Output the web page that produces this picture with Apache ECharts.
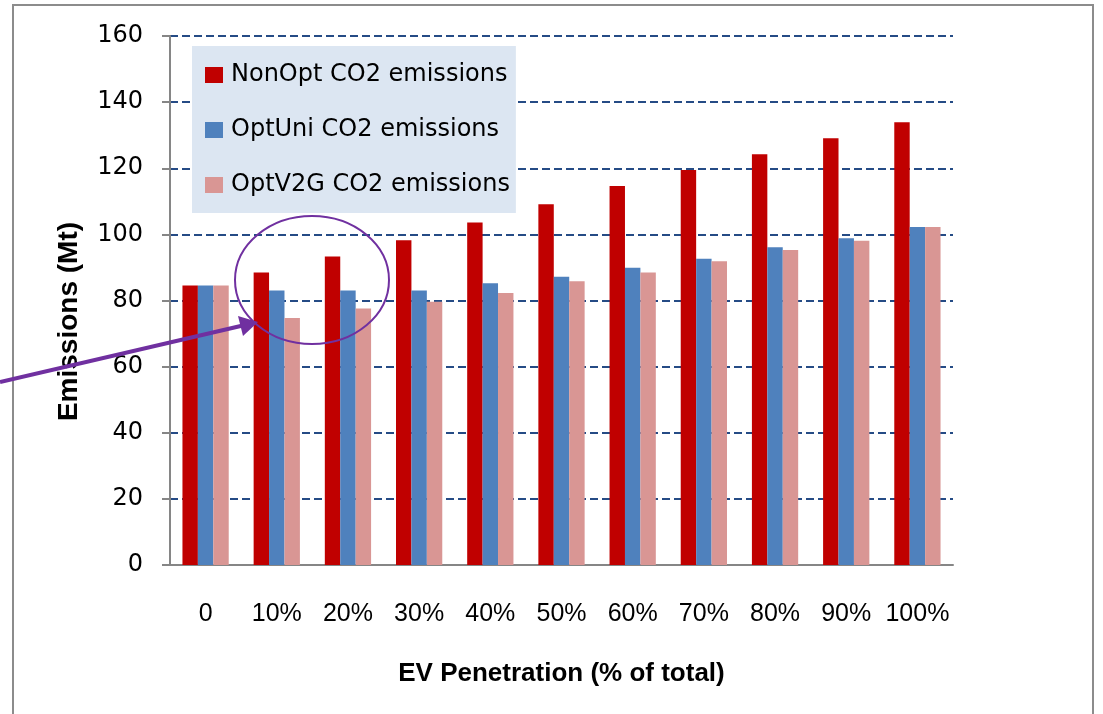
<!DOCTYPE html>
<html>
<head>
<meta charset="utf-8">
<script src="https://cdn.jsdelivr.net/npm/echarts@6/dist/echarts.min.js"></script>
<style>
  html, body { margin: 0; padding: 0; background: #fff; }
  #chart { width: 1103px; height: 714px; }
</style>
</head>
<body>
<div id="chart"></div>
<script>
const categories = ['0', '10%', '20%', '30%', '40%', '50%', '60%', '70%', '80%', '90%', '100%'];
const nonOpt = [84.5, 88.5, 93.3, 98.2, 103.6, 109.1, 114.6, 119.5, 124.2, 129.1, 133.9];
const optUni = [84.5, 83.0, 83.0, 83.0, 85.2, 87.2, 89.9, 92.6, 96.1, 98.8, 102.2];
const optV2G = [84.5, 74.7, 77.6, 79.6, 82.3, 85.8, 88.5, 91.9, 95.3, 98.1, 102.2];
const seriesNames = ['NonOpt CO2 emissions', 'OptUni CO2 emissions', 'OptV2G CO2 emissions'];
const seriesColors = ['#c00000', '#4f81bd', '#d99694'];

const chart = echarts.init(document.getElementById('chart'), null, { renderer: 'canvas' });

// purple annotation (ellipse + arrow) and the outer frame
const annotation = [
  {
    type: 'rect',
    shape: { x: 13, y: 5, width: 1080, height: 720 },
    style: { fill: 'none', stroke: '#8c8c8c', lineWidth: 2 },
    silent: true,
    z: 0,
  },
  {
    type: 'ellipse',
    shape: { cx: 312, cy: 280, rx: 77, ry: 64 },
    style: { fill: 'none', stroke: '#7030a0', lineWidth: 2 },
    silent: true,
    z: 100,
  },
  {
    type: 'line',
    shape: { x1: 0, y1: 382, x2: 245, y2: 325 },
    style: { stroke: '#7030a0', lineWidth: 4 },
    silent: true,
    z: 100,
  },
  {
    type: 'polygon',
    shape: { points: [[258, 322], [238, 316], [243, 336]] },
    style: { fill: '#7030a0' },
    silent: true,
    z: 100,
  },
];

const option = {
  animation: false,
  backgroundColor: '#fff',
  color: seriesColors,
  grid: {
    left: 170,
    right: 150,
    top: 36,
    bottom: 149,
  },
  legend: {
    orient: 'vertical',
    left: 192,
    top: 46,
    backgroundColor: '#dce6f2',
    padding: [17, 6, 16, 13],
    itemGap: 31,
    itemWidth: 18,
    itemHeight: 16,
    icon: 'rect',
    textStyle: {
      fontFamily: 'DejaVu Sans',
      fontSize: 24,
      color: '#000',
      padding: [0, 0, 0, 3],
    },
    data: seriesNames,
  },
  xAxis: {
    type: 'category',
    data: categories,
    name: 'EV Penetration (% of total)',
    nameLocation: 'middle',
    nameGap: 96,
    nameTextStyle: {
      fontFamily: 'Liberation Sans',
      fontWeight: 'bold',
      fontSize: 26,
      color: '#000',
    },
    axisLine: { lineStyle: { color: '#868686', width: 2 } },
    axisTick: { length: 8, lineStyle: { color: '#868686', width: 2 } },
    axisLabel: {
      interval: 0,
      margin: 37,
      fontFamily: 'Liberation Sans',
      fontSize: 25,
      color: '#000',
    },
  },
  yAxis: {
    type: 'value',
    min: 0,
    max: 160,
    interval: 20,
    name: 'Emissions (Mt)',
    nameLocation: 'middle',
    nameGap: 87,
    nameTextStyle: {
      fontFamily: 'Liberation Sans',
      fontWeight: 'bold',
      fontSize: 28,
      color: '#000',
      padding: [0, 42, 0, 0],
    },
    axisLine: { show: true, lineStyle: { color: '#868686', width: 2 } },
    axisTick: { show: true, length: 8, lineStyle: { color: '#868686', width: 2 } },
    axisLabel: {
      margin: 27,
      fontFamily: 'DejaVu Sans',
      fontSize: 24,
      color: '#000',
    },
    splitLine: {
      lineStyle: { color: '#254b85', width: 2, type: [8, 4] },
    },
  },
  series: [nonOpt, optUni, optV2G].map((data, i) => ({
    name: seriesNames[i],
    type: 'bar',
    data: data,
    barGap: '0%',
    barCategoryGap: '35%',
    itemStyle: { color: seriesColors[i] },
  })),
  graphic: annotation,
};

chart.setOption(option);
</script>
</body>
</html>
